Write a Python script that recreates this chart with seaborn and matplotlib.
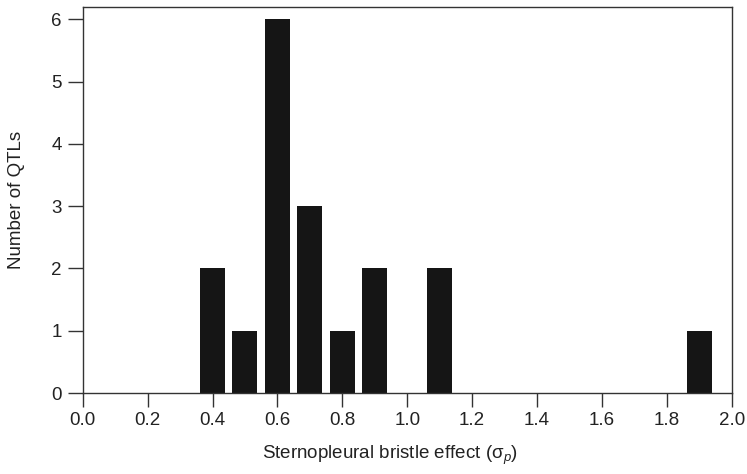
import matplotlib
matplotlib.use("Agg")
import matplotlib.pyplot as plt
import seaborn as sns
import pandas as pd

effect = [0.4, 0.5, 0.6, 0.7, 0.8, 0.9, 1.1, 1.9]
n_qtl = [2, 1, 6, 3, 1, 2, 2, 1]
xticks = [0.0, 0.2, 0.4, 0.6, 0.8, 1.0, 1.2, 1.4, 1.6, 1.8, 2.0]
yticks = [0, 1, 2, 3, 4, 5, 6]

sns.set_theme(style="ticks")
plt.rcParams['font.family'] = ['Liberation Sans', 'DejaVu Sans']
plt.rcParams['mathtext.fontset'] = 'custom'
plt.rcParams['mathtext.rm'] = 'Liberation Sans'
plt.rcParams['mathtext.it'] = 'Liberation Sans:italic'

df = pd.DataFrame({"effect": effect, "n": n_qtl})

fig = plt.figure(figsize=(7.47, 4.74), dpi=100)
x0, x1, y0, y1 = 82.7, 731.7, 7, 393
ax = fig.add_axes([x0/747, 1 - y1/474, (x1-x0)/747, (y1-y0)/474])
sns.barplot(data=df, x="effect", y="n", native_scale=True, width=0.77,
            color="#151515", saturation=1, edgecolor="none", ax=ax, errorbar=None)

ax.set_xlim(0, 2.0)
ax.set_ylim(0, 6.2)
ax.set_xticks(xticks)
ax.set_xticklabels([f"{t:.1f}" for t in xticks])
ax.set_yticks(yticks)
ax.set_yticklabels([str(t) for t in yticks])
for s in ax.spines.values():
    s.set_color("#333333")
    s.set_linewidth(1.0)
ax.tick_params(axis='x', direction='out', length=10, width=1, labelsize=13.5, pad=4, colors="#333333", labelcolor="#222222")
ax.tick_params(axis='y', direction='out', length=11, width=1, labelsize=13.5, pad=4, colors="#333333", labelcolor="#222222")
ax.set_xlabel(r"Sternopleural bristle effect ($\mathrm{\sigma}_{p}$)", fontsize=13.5, color="#222222")
ax.set_ylabel("Number of QTLs", fontsize=13.5, color="#222222")
ax.xaxis.set_label_coords((390 - x0)/(x1 - x0), -(455 - y1)/(y1 - y0), transform=ax.transAxes)
ax.xaxis.label.set_va("center")
ax.yaxis.set_label_coords(-(x0 - 17)/(x1 - x0), 0.5, transform=ax.transAxes)
ax.yaxis.label.set_va("center")

fig.savefig("out.png", dpi=100)
